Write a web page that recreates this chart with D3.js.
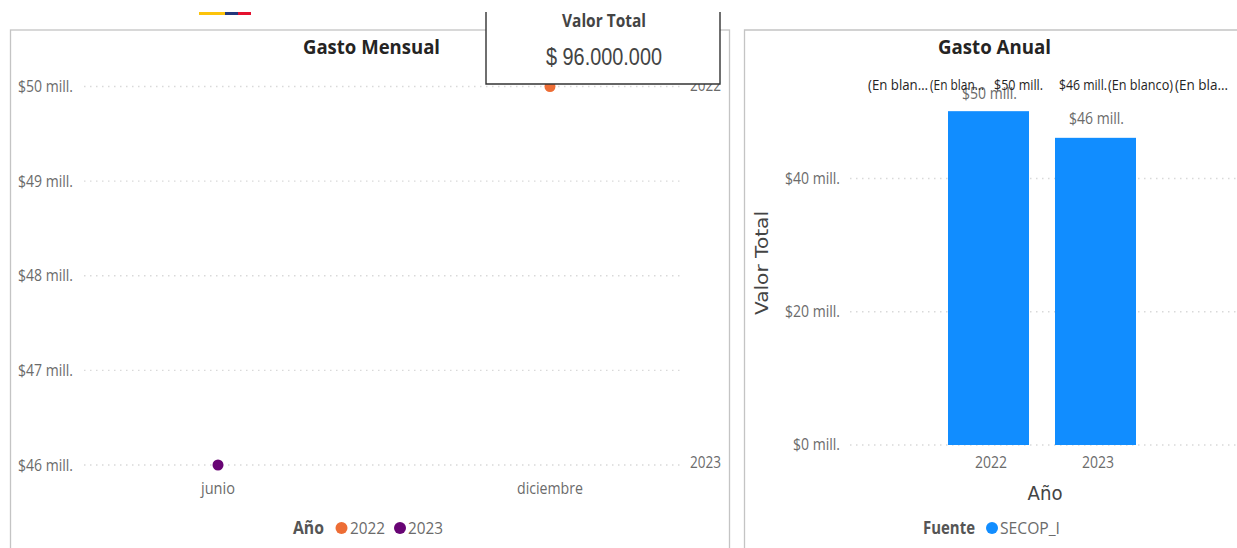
<!DOCTYPE html>
<html><head><meta charset="utf-8">
<script src="https://cdn.jsdelivr.net/npm/d3@7"></script>
<style>html,body{margin:0;padding:0;background:#fff;overflow:hidden}svg{display:block}text{font-family:"Open Sans",sans-serif}</style>
</head><body>
<svg id="c" width="1237" height="548"></svg>
<script>
const months = ["junio","diciembre"];
const monthlySeries = [
  {year:"2022", month:"diciembre", value:50},
  {year:"2023", month:"junio", value:46}
];
const monthlyTicks = [46,47,48,49,50];
const yearColors = {"2022":"#ed6d35","2023":"#680474"};
const years = ["2022","2023"];
const annualValues = [50,46];
const annualTicks = [0,20,40];
const overlapLabels = [
  {t:"(En blan…",x:868,w:60},{t:"(En blan…",x:930,w:54},{t:"$50 mill.",x:994,w:49},
  {t:"$46 mill.",x:1059,w:48},{t:"(En blanco)",x:1108,w:65},{t:"(En bla…",x:1175,w:53}
];

const svg = d3.select("#c");
const G="#6b6b6b";
function T(x,y,s,o={}){
  const t=svg.append("text").attr("x",x).attr("y",y).text(s)
    .attr("font-size",o.size||16).attr("fill",o.fill||G)
    .attr("text-anchor",o.anchor||"start").attr("font-weight",o.weight||400);
  if(o.w) t.attr("textLength",o.w).attr("lengthAdjust","spacingAndGlyphs");
  if(o.font) t.style("font-family",o.font);
  return t;
}
// flag strip
[["#fcc30b",199,225],["#24387c",225,238],["#e4112f",238,251]].forEach(d=>
  svg.append("rect").attr("x",d[1]).attr("y",12).attr("width",d[2]-d[1]).attr("height",3).attr("fill",d[0]));

// panels
svg.append("rect").attr("x",10.5).attr("y",30).attr("width",719).attr("height",530).attr("fill","none").attr("stroke","#c4c4c4").attr("stroke-width",1.3);
svg.append("path").attr("d","M1237 30H744.5V548").attr("fill","none").attr("stroke","#c4c4c4").attr("stroke-width",1.3);

// monthly
const y1=d3.scaleLinear().domain([46,50]).range([465,86.5]);
const x1=d3.scalePoint().domain(months).range([218,550]);
const color=d3.scaleOrdinal().domain(years).range(years.map(y=>yearColors[y]));
const dots="1.5 4.5";
svg.append("g").selectAll("line").data(monthlyTicks).join("line")
  .attr("x1",84).attr("x2",680).attr("y1",d=>y1(d)).attr("y2",d=>y1(d))
  .attr("stroke","#d9d9d9").attr("stroke-width",1.3).attr("stroke-dasharray",dots);
monthlyTicks.forEach(v=>T(18,y1(v)+5.5,`$${v} mill.`,{w:55}));
months.forEach(m=>T(x1(m),493.5,m,{anchor:"middle",w:m==="junio"?34:66}));
svg.append("g").selectAll("circle").data(monthlySeries).join("circle")
  .attr("cx",d=>x1(d.month)).attr("cy",d=>y1(d.value)).attr("r",5.5).attr("fill",d=>color(d.year));
monthlySeries.forEach(d=>T(690,y1(d.value)+(d.year==="2022"?4:3),d.year,{w:31}));
T(303,54,"Gasto Mensual",{size:20,weight:700,fill:"#252423",w:137});
// monthly legend
T(293,534,"Año",{size:17,weight:700,fill:"#555",w:31});
T(350,534,"2022",{w:35}); T(408,534,"2023",{w:35});
svg.append("circle").attr("cx",341.5).attr("cy",528).attr("r",6).attr("fill",color("2022"));
svg.append("circle").attr("cx",400).attr("cy",528).attr("r",6).attr("fill",color("2023"));

// KPI card
svg.append("path").attr("d","M486 12V84H720V12").attr("fill","#fff").attr("stroke","#333").attr("stroke-width",1.4);
T(604,27,"Valor Total",{size:18,weight:700,fill:"#444",anchor:"middle",w:84});
T(604,64.5,"$ 96.000.000",{size:23,fill:"#444",anchor:"middle",w:116,font:"'Liberation Sans',sans-serif"});

// annual
const y2=d3.scaleLinear().domain([0,40]).range([445,178.5]);
const x2=d3.scaleBand().domain(years).range([948,1136]).paddingInner(0.243).paddingOuter(0);
svg.append("g").selectAll("line").data(annualTicks).join("line")
  .attr("x1",850).attr("x2",1237).attr("y1",d=>y2(d)).attr("y2",d=>y2(d))
  .attr("stroke","#d9d9d9").attr("stroke-width",1.3).attr("stroke-dasharray",dots);
annualTicks.forEach(v=>T(v===0?793:785,y2(v)+5,`$${v} mill.`,{w:v===0?47:55}));
svg.append("g").selectAll("rect").data(years).join("rect")
  .attr("x",d=>x2(d)).attr("width",x2.bandwidth())
  .attr("y",(d,i)=>y2(annualValues[i])-0.7).attr("height",(d,i)=>y2(0)-y2(annualValues[i])+0.7)
  .attr("fill","#118dff");
years.forEach((yr,i)=>{
  const cx=x2(yr)+x2.bandwidth()/2;
  T(cx+2.5,468,yr,{anchor:"middle",w:32});
  T(cx+1,y2(annualValues[i])-(i?14.5:13),`$${annualValues[i]} mill.`,{anchor:"middle",w:55});
});
overlapLabels.forEach(d=>T(d.x,90,d.t,{size:15,fill:"#252423",w:d.w}));
T(938,54,"Gasto Anual",{size:20,weight:700,fill:"#252423",w:113});
T(0,0,"Valor Total",{size:18,fill:"#444",anchor:"middle",w:104,font:"'DejaVu Sans',sans-serif"})
  .attr("transform","translate(768,263) rotate(-90)");
T(1045,500,"Año",{size:19,fill:"#444",anchor:"middle",w:35,font:"'DejaVu Sans',sans-serif"});
T(923,534,"Fuente",{size:17,weight:700,fill:"#555",w:52});
svg.append("circle").attr("cx",992).attr("cy",528).attr("r",6).attr("fill","#118dff");
T(1000,534,"SECOP_I",{w:60});
</script>
</body></html>
